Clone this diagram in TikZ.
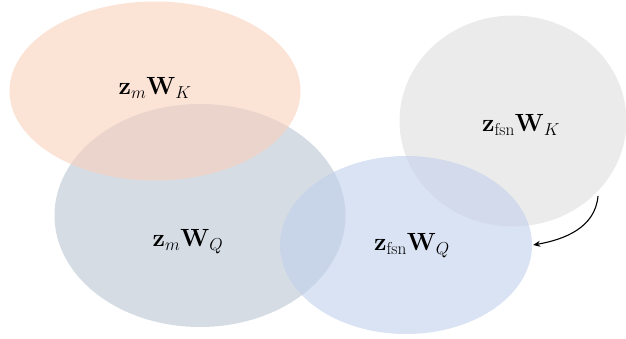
\documentclass[tikz,border=0pt]{standalone}
\usepackage{amsmath}
\usetikzlibrary{shapes.geometric,arrows.meta}
\definecolor{peach}{RGB}{248,208,187}
\definecolor{slateblue}{RGB}{185,197,210}
\definecolor{lightgray}{RGB}{222,222,222}
\definecolor{paleblue}{RGB}{193,208,235}
\tikzset{
  blob/.style={ellipse, draw=none, fill opacity=0.6, inner sep=0pt},
  lbl/.style={font=\fontsize{25}{30}\selectfont, inner sep=0pt},
  conn/.style={draw=black, line width=1.1pt, -{Stealth[length=7pt,width=6pt]}}
}
\begin{document}
\begin{tikzpicture}[x=1pt,y=-1pt]
\useasboundingbox (0,0) rectangle (626,339);
\node[blob, fill=slateblue, minimum width=291pt, minimum height=223pt] (mq) at (200,215.5) {};
\node[blob, fill=peach, minimum width=291pt, minimum height=179pt] (orange) at (155,91) {};
\node[blob, fill=lightgray, minimum width=227pt, minimum height=211pt] (gray) at (513,121) {};
\node[blob, fill=paleblue, minimum width=252pt, minimum height=178pt] (blue) at (406,245) {};
\node[lbl] (tmk) at (155,88) {$\mathbf{z}_{m}\mathbf{W}_{K}$};
\node[lbl] (tfk) at (521,125) {$\mathbf{z}_{\mathrm{fsn}}\mathbf{W}_{K}$};
\node[lbl] (tmq) at (188,242) {$\mathbf{z}_{m}\mathbf{W}_{Q}$};
\node[lbl] (tfq) at (412,246) {$\mathbf{z}_{\mathrm{fsn}}\mathbf{W}_{Q}$};
\coordinate (astart) at (598,196);
\draw[conn] (astart) to[out=-95,in=10] ([xshift=1pt]blue.east);
\end{tikzpicture}
\end{document}
